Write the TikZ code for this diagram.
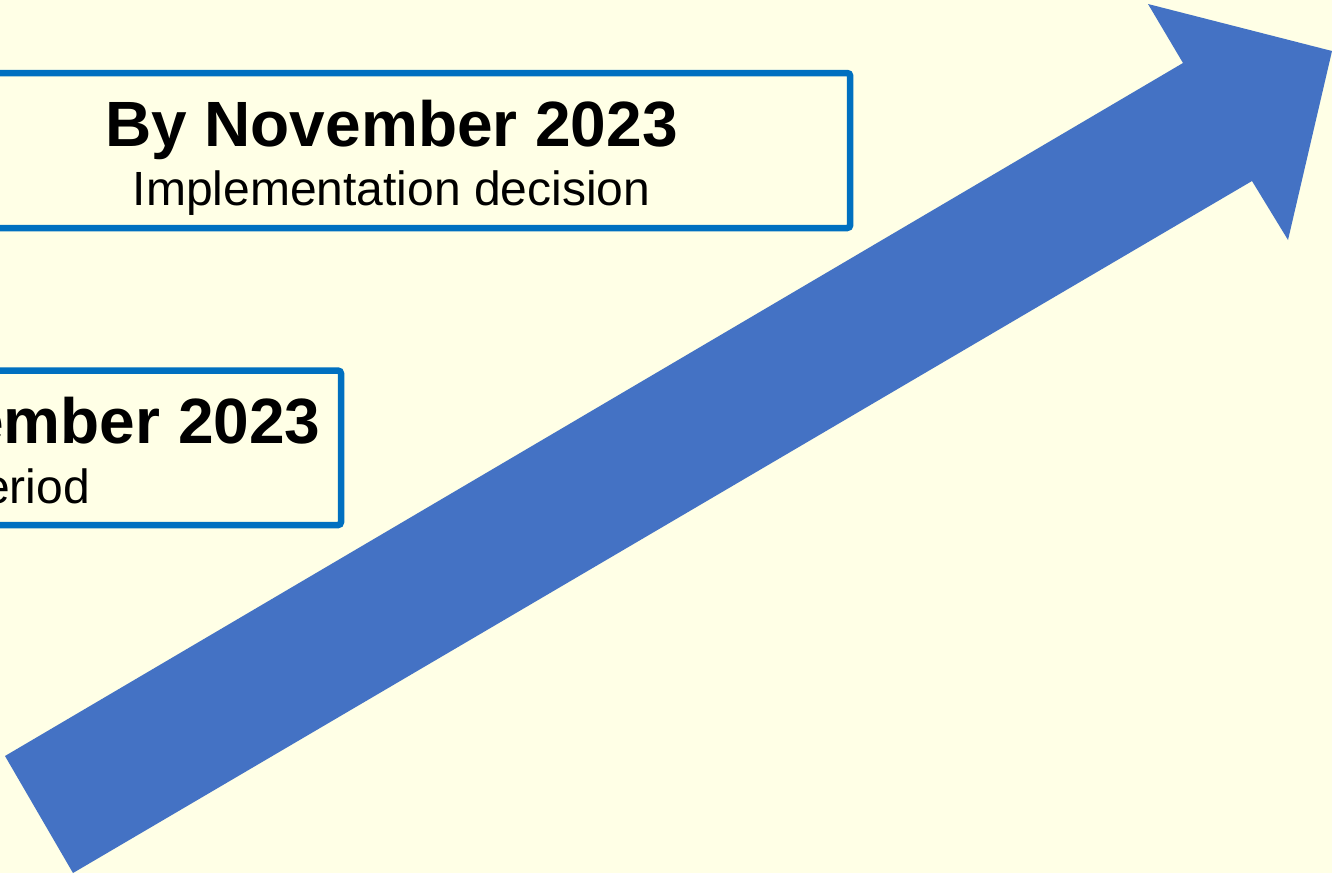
\documentclass[tikz,border=0pt]{standalone}
\usepackage{fontspec}
\setmainfont{Liberation Sans}
\definecolor{bgyellow}{RGB}{255,255,230}
\definecolor{boxblue}{RGB}{0,112,192}
\definecolor{arrowblue}{RGB}{68,114,196}
\tikzset{
  datebox/.style={draw=boxblue, line width=6.5pt, rounded corners=3pt, inner sep=0pt, outer sep=0pt},
  datetitle/.style={inner sep=0pt, outer sep=0pt, font=\fontsize{64}{70}\selectfont\bfseries},
  datesub/.style={inner sep=0pt, outer sep=0pt, font=\fontsize{48}{54}\selectfont},
}
\begin{document}
\begin{tikzpicture}[x=1pt, y=-1pt]
\useasboundingbox (0,0) rectangle (1332,873);
\fill[bgyellow] (0,0) rectangle (1332,873);
\clip (0,0) rectangle (1332,873);
% big arrow
\fill[arrowblue] (5,756) -- (1183,63) -- (1148,4) -- (1332,51) -- (1288,240) -- (1252,181) -- (73,873) -- cycle;
% box 1
\node[datebox, minimum width=920pt, minimum height=155pt] (box1) at (390.2,150.5) {};
\node[datetitle, anchor=base] (t1a) at (391.5,146) {By November 2023};
\node[datesub, anchor=base] (t1b) at (391.5,205.5) {Implementation decision};
% box 2
\node[datebox, minimum width=940pt, minimum height=154.5pt] (box2) at (-129,447.8) {};
\node[datetitle, anchor=base east] (t2a) at (320.6,443) {ember 2023};
\node[datesub, anchor=base east] (t2b) at (90,503) {eriod};
\end{tikzpicture}
\end{document}
